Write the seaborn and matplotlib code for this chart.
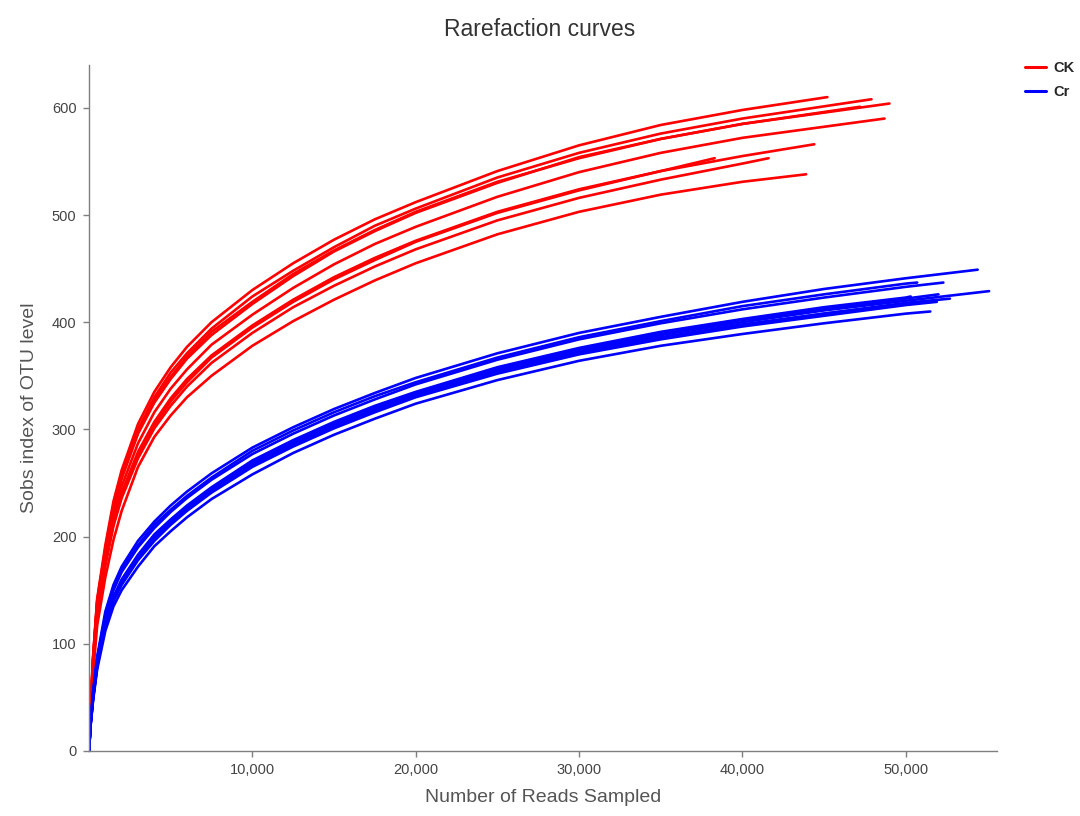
import pandas as pd
import matplotlib.pyplot as plt
import seaborn as sns
from matplotlib.lines import Line2D

depth = [0, 100, 250, 500, 1000, 1500, 2000, 3000, 4000, 5000, 6000, 7500,
         10000, 12500, 15000, 17500, 20000, 25000, 30000, 35000, 40000, 45000, 50000]

# CK samples: values on the depth grid (until the sample runs out), then the last point
ck_R1 = [0, 42, 88, 142, 192, 233, 262, 305, 335, 358, 377, 400, 430, 455, 477, 496, 512, 541, 565, 584, 598]
ck_R2 = [0, 41, 87, 140, 189, 230, 258, 300, 330, 353, 371, 394, 424, 448, 470, 490, 506, 535, 558, 576, 590]
ck_R3 = [0, 41, 85, 138, 186, 226, 254, 296, 325, 347, 366, 388, 417, 443, 466, 485, 502, 530, 554, 571, 585]
ck_R4 = [0, 41, 86, 139, 187, 228, 256, 297, 327, 349, 368, 391, 419, 445, 467, 486, 503, 531, 553, 571, 585]
ck_R5 = [0, 40, 83, 134, 181, 220, 247, 287, 316, 338, 356, 379, 407, 432, 454, 473, 489, 517, 540, 558, 572]
ck_R6 = [0, 39, 81, 131, 177, 214, 241, 279, 307, 329, 347, 369, 397, 421, 442, 460, 476, 503, 524, 541, 555]
ck_R7 = [0, 38, 79, 128, 173, 210, 236, 273, 301, 322, 340, 362, 390, 414, 434, 452, 468, 495, 516, 533, 548]
ck_R8 = [0, 39, 80, 129, 175, 212, 238, 276, 304, 326, 344, 367, 395, 419, 440, 458, 475, 502, 523, 541]
ck_R9 = [0, 34, 72, 117, 162, 197, 224, 265, 293, 313, 330, 350, 378, 401, 421, 439, 455, 482, 503, 519, 531]
ck_end_depth = [45200, 47900, 49000, 47200, 48700, 44400, 41600, 38300, 43900]
ck_end_sobs = [610, 608, 604, 601, 590, 566, 553, 553, 538]

# Cr samples
cr_B1 = [0, 28, 55, 88, 130, 155, 172, 196, 214, 229, 242, 259, 283, 302, 319, 334, 348, 371, 390, 405, 419, 431, 441]
cr_B2 = [0, 27, 53, 85, 126, 150, 167, 190, 208, 223, 236, 253, 277, 296, 313, 328, 342, 365, 384, 399, 412, 423, 433]
cr_B3 = [0, 27, 54, 86, 127, 152, 169, 192, 211, 225, 238, 255, 280, 299, 316, 331, 344, 367, 386, 401, 415, 426, 436]
cr_B4 = [0, 25, 50, 80, 118, 142, 158, 181, 199, 214, 227, 244, 268, 287, 304, 319, 333, 355, 373, 388, 400, 411, 420]
cr_B5 = [0, 25, 49, 79, 117, 141, 156, 179, 198, 212, 225, 242, 267, 286, 303, 318, 331, 353, 372, 386, 398, 408, 418]
cr_B6 = [0, 25, 49, 79, 116, 140, 155, 178, 196, 211, 224, 241, 265, 284, 301, 316, 330, 352, 370, 384, 396, 406, 416]
cr_B7 = [0, 26, 51, 82, 120, 144, 160, 183, 202, 216, 229, 246, 271, 290, 307, 322, 335, 358, 376, 391, 403, 414, 423]
cr_B8 = [0, 24, 47, 76, 112, 135, 150, 172, 191, 205, 218, 235, 258, 278, 295, 310, 324, 346, 364, 378, 389, 399, 408]
cr_B9 = [0, 26, 50, 80, 118, 142, 158, 181, 199, 213, 226, 243, 268, 287, 303, 318, 331, 353, 371, 385, 397, 408, 417]
cr_B10 = [0, 26, 50, 81, 120, 143, 159, 182, 201, 215, 228, 245, 270, 289, 306, 321, 334, 356, 375, 389, 402, 412, 422]
cr_end_depth = [54400, 52300, 50700, 55100, 52700, 51900, 50300, 51500, 51000, 52000]
cr_end_sobs = [449, 437, 437, 429, 422, 419, 424, 410, 419, 426]

groups = {
    "CK": ([ck_R1, ck_R2, ck_R3, ck_R4, ck_R5, ck_R6, ck_R7, ck_R8, ck_R9], ck_end_depth, ck_end_sobs),
    "Cr": ([cr_B1, cr_B2, cr_B3, cr_B4, cr_B5, cr_B6, cr_B7, cr_B8, cr_B9, cr_B10], cr_end_depth, cr_end_sobs),
}

rows = []
for grp, (curves, ends_x, ends_y) in groups.items():
    for i, vals in enumerate(curves):
        name = f"{grp}{i + 1}"
        for d, v in zip(depth, vals):
            rows.append((grp, name, d, v))
        rows.append((grp, name, ends_x[i], ends_y[i]))
df = pd.DataFrame(rows, columns=["group", "sample", "depth", "sobs"])

sns.set_style("white")
plt.rcParams["font.family"] = ["Liberation Sans", "DejaVu Sans"]

colors = {"CK": "#ff0000", "Cr": "#0000ff"}

fig = plt.figure(figsize=(10.8, 8.16), dpi=100)
ax = fig.add_axes([0.0824, 0.0797, 0.8410, 0.8407])

sns.lineplot(data=df, x="depth", y="sobs", hue="group", units="sample",
             estimator=None, sort=False, palette=colors, linewidth=1.9,
             legend=False, ax=ax)

ax.set_xlim(0, 55600)
ax.set_ylim(0, 640)
ax.set_xticks([10000, 20000, 30000, 40000, 50000])
ax.set_xticklabels([f"{t:,}" for t in [10000, 20000, 30000, 40000, 50000]])
ax.set_yticks(range(0, 700, 100))

sns.despine(ax=ax)
for side in ["left", "bottom"]:
    ax.spines[side].set_color("#7f7f7f")
    ax.spines[side].set_linewidth(1.0)
ax.tick_params(axis="both", direction="out", length=4, width=1, color="#7f7f7f",
               labelsize=10.5, labelcolor="#444444", pad=5)
ax.tick_params(axis="x", bottom=True)
ax.tick_params(axis="y", left=True)

ax.set_xlabel("Number of Reads Sampled", fontsize=14, color="#555555", labelpad=8)
ax.set_ylabel("Sobs index of OTU level", fontsize=14, color="#555555", labelpad=10)
fig.suptitle("Rarefaction curves", fontsize=16.5, color="#333333", y=0.978)

handles = [Line2D([0], [0], color=colors[g], lw=2.2) for g in colors]
fig.legend(handles, list(colors), loc="upper left", bbox_to_anchor=(0.949, 0.925),
           frameon=False, borderpad=0, borderaxespad=0, handlelength=1.45,
           handletextpad=0.5, labelspacing=0.7,
           prop={"weight": "bold", "size": 10.5})

fig.savefig("out.png", dpi=100)
